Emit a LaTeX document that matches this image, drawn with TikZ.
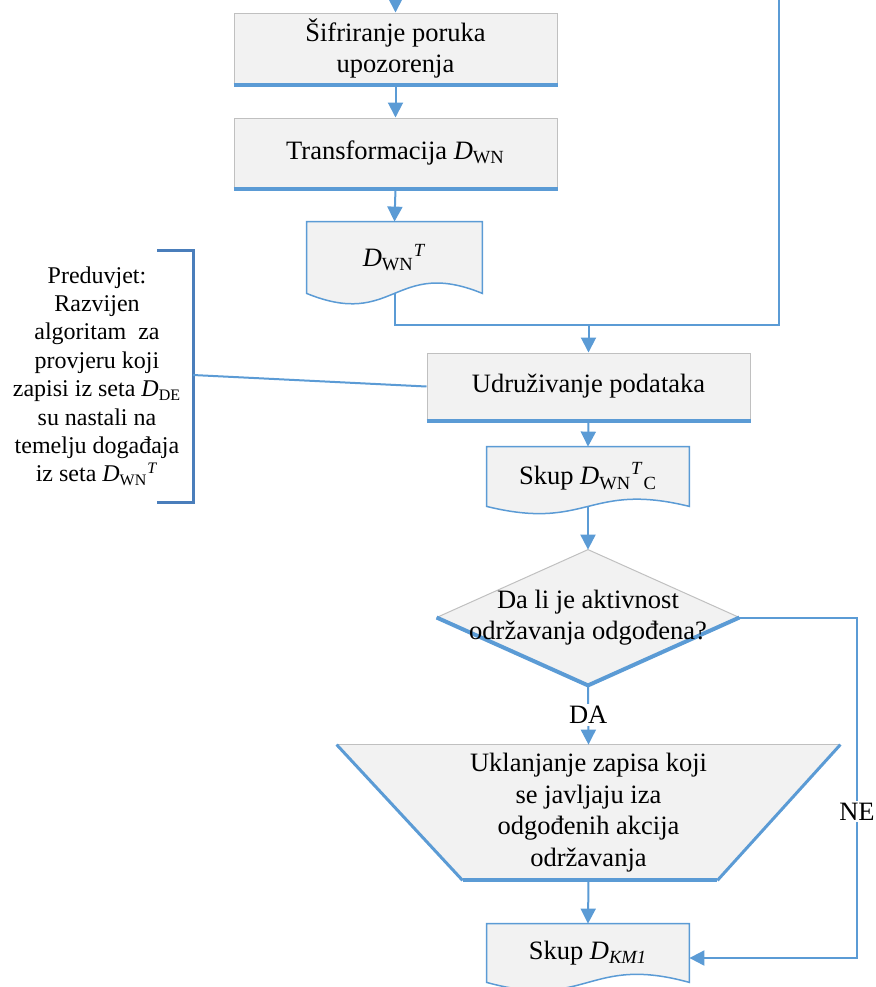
\documentclass[tikz,border=0pt]{standalone}
\usepackage{fontspec}
\setmainfont{Liberation Serif}
\usetikzlibrary{arrows.meta,calc,backgrounds}
\definecolor{lblue}{HTML}{5B9BD5}
\definecolor{dblue}{HTML}{4A7EBB}
\definecolor{bgray}{HTML}{C0C0C0}
\definecolor{fgray}{HTML}{F2F2F2}
\newcommand\boxfont{\fontsize{13.25}{15.8}\selectfont}
\newcommand\brfont{\fontsize{12}{14.2}\selectfont}
\newcommand\Dwn{\textit{D}\textsubscript{WN}}
\tikzset{
  txt/.style={rectangle, inner sep=0pt, align=center, font=\boxfont},
  procbox/.style={txt, fill=fgray, draw=bgray, line width=0.5pt,
    append after command={(\tikzlastnode.south west) edge[bottomline] (\tikzlastnode.south east)}},
  bottomline/.style={draw=lblue, line width=2pt},
  docline/.style={draw=lblue, line width=0.75pt, fill=fgray},
  conn/.style={draw=lblue, line width=1pt},
  arr/.style={conn, -{Triangle[width=7.5pt,length=7.5pt]}},
  lbl/.style={fill=white, inner sep=1pt, font=\boxfont},
  brk/.style={draw=dblue, line width=1.5pt},
}
\begin{document}
\begin{tikzpicture}[x=0.5pt, y=-0.5pt]
\useasboundingbox (0,0) rectangle (876,987);

% nodes
\node[procbox, minimum width=161.5pt, minimum height=35.5pt] (p1) at (395.5,48.5) {Šifriranje poruka\\upozorenja};
\node[procbox, minimum width=161.5pt, minimum height=35pt] (p2) at (395.5,153) {Transformacija \Dwn};
\node[txt, minimum width=87.5pt, minimum height=35.5pt] (doc1) at (394.5,257.5) {\raisebox{2pt}{\Dwn\textsuperscript{\textit{T}}}};
\node[procbox, minimum width=161.5pt, minimum height=33.5pt] (p3) at (588.5,386.5) {Udruživanje podataka};
\node[txt, minimum width=101pt, minimum height=29.5pt] (doc2) at (588,476.5) {\raisebox{1.5pt}{Skup \Dwn\textsuperscript{\textit{T}}\textsubscript{C}}};
\node[txt, minimum width=151pt, minimum height=67.5pt] (dia) at (588,617.5) {Da li je aktivnost\\održavanja odgođena?};
\node[txt, minimum width=251.5pt, minimum height=67.5pt] (trap) at (588.5,812.5) {Uklanjanje zapisa koji\\se javljaju iza\\odgođenih akcija\\održavanja};
\node[txt, minimum width=101pt, minimum height=29pt] (doc3) at (588,953) {\raisebox{1.5pt}{Skup \textit{D}\textsubscript{\textit{KM1}}}};
\node[txt, font=\brfont] (bt) at (97,376) {Preduvjet:\\Razvijen\\algoritam~ za\\provjeru koji\\zapisi iz seta \textit{D}\textsubscript{DE}\\su nastali na\\temelju događaja\\iz seta \Dwn\textsuperscript{\textit{T}}};

% shapes on background
\begin{pgfonlayer}{background}
  \path[docline] (doc1.north west) -- (doc1.north east) -- (doc1.south east)
    .. controls ($(doc1.south)+(0,-36)$) and ($(doc1.south)+(0,36)$) .. (doc1.south west) -- cycle;
  \path[docline] (doc2.north west) -- (doc2.north east) -- (doc2.south east)
    .. controls ($(doc2.south)+(0,-25)$) and ($(doc2.south)+(0,25)$) .. (doc2.south west) -- cycle;
  \path[docline] (doc3.north west) -- (doc3.north east) -- (doc3.south east)
    .. controls ($(doc3.south)+(0,-28)$) and ($(doc3.south)+(0,28)$) .. (doc3.south west) -- cycle;
  % diamond
  \fill[fgray] (dia.north) -- (dia.east) -- (dia.south) -- (dia.west) -- cycle;
  \draw[bgray, line width=0.5pt] (dia.west) -- (dia.north) -- (dia.east);
  \draw[lblue, line width=2pt] (dia.west) -- (dia.south) -- (dia.east);
  % trapezoid
  \coordinate (tbl) at ($(trap.south west)+(126,0)$);
  \coordinate (tbr) at ($(trap.south east)+(-123,0)$);
  \fill[fgray] (trap.north west) -- (trap.north east) -- (tbr) -- (tbl) -- cycle;
  \draw[bgray, line width=0.5pt] (trap.north west) -- (trap.north east);
  \draw[lblue, line width=1.5pt] (trap.north west) -- (tbl);
  \draw[lblue, line width=1.5pt] (trap.north east) -- (tbr);
  \draw[lblue, line width=2pt] (tbl) -- (tbr);
\end{pgfonlayer}

% connectors
\coordinate (in1) at (395.5,-4);
\coordinate (tr) at (779,-4);
\path (p3.north) ++(0,-28) coordinate (j);
\draw[arr] (in1) -- (p1.north);
\draw[arr] (p1.south) -- (p2.north);
\draw[arr] (p2.south) -- (doc1.north);
\draw[conn] (doc1.south) |- (j);
\draw[conn] (tr) |- (j);
\draw[arr] (j) -- (p3.north);
\draw[arr] (p3.south) -- (doc2.north);
\draw[arr] (doc2.south) -- (dia.north);
\draw[arr] (dia.south) -- node[lbl, pos=0.5] (da) {DA} (trap.north);
\draw[arr] (trap.south) -- (doc3.north);
\coordinate (rx) at (857,0);
\path (doc3.east) ++(0,5) coordinate (k);
\draw[arr] (dia.east) -- (dia.east -| rx) -- node[lbl, pos=0.57] (ne) {NE} (rx |- k) -- (k);

% bracket
\coordinate (b1) at (157,250);
\coordinate (b2) at (193,250);
\coordinate (b3) at (193,502);
\coordinate (b4) at (157,502);
\coordinate (bm) at (193,375);
\draw[brk] (b1) -- (b2) -- (b3) -- (b4);
\draw[conn] (bm) -- (p3.west);
\end{tikzpicture}
\end{document}
